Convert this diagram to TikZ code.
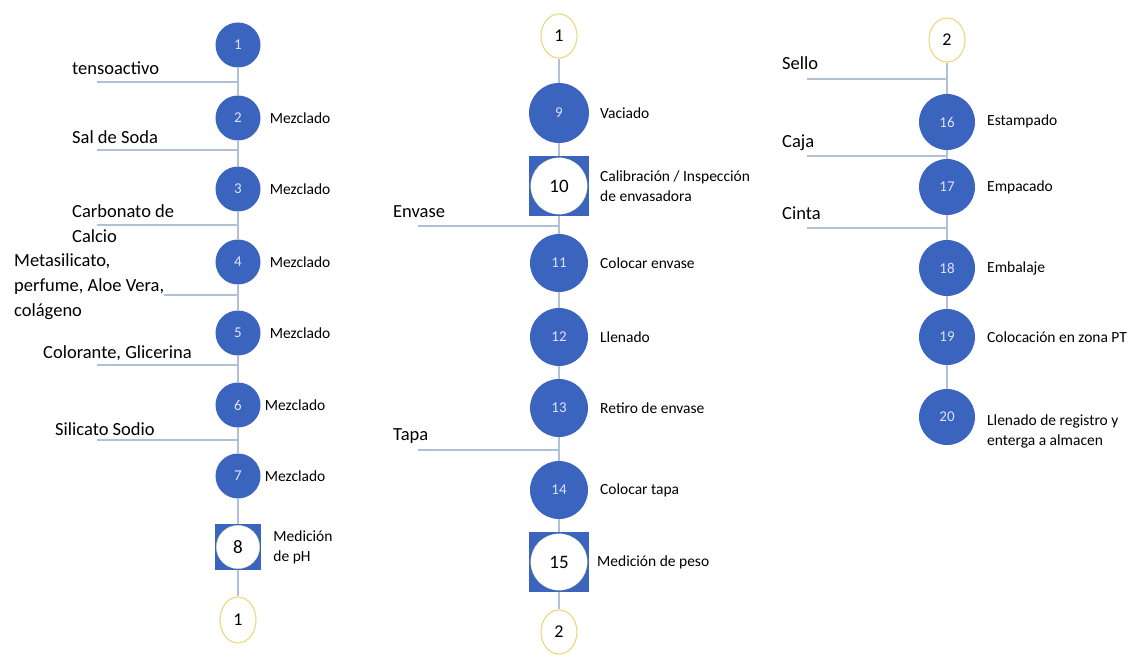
\documentclass[tikz,border=0pt]{standalone}
\usepackage{fontspec}
\setmainfont{Carlito}
\usetikzlibrary{shapes.geometric,positioning}
\definecolor{opblue}{RGB}{58,100,190}
\definecolor{linkgray}{RGB}{178,192,214}
\definecolor{refyellow}{RGB}{234,216,130}
\definecolor{ringyellow}{RGB}{226,234,170}

\begin{document}
\begin{tikzpicture}[x=1pt, y=-1pt,
		op/.style={circle, fill=opblue, inner sep=0pt, minimum size=#1pt, text=blue!12!white, font=\fontsize{15}{17}\selectfont},
		insp/.style={rectangle, fill=opblue, inner sep=0pt, minimum size=#1pt, font=\fontsize{19}{22}\selectfont,
			path picture={\draw[ringyellow, fill=white] (path picture bounding box.center) circle[radius=0.47*#1pt];}},
		ref/.style={ellipse, draw=refyellow, line width=1.1pt, fill=white, inner sep=0pt, minimum width=36pt, minimum height=44pt, font=\fontsize{18}{21}\selectfont},
		lbl/.style={anchor=west, align=left, inner sep=0pt, font=\fontsize{15.5}{20}\selectfont},
		feed/.style={anchor=west, align=left, inner sep=0pt, font=\fontsize{18.5}{25}\selectfont},
		link/.style={draw=linkgray, line width=1.2pt}]
	\useasboundingbox (0,0) rectangle (1135,655);

	% columna 1
	\node[op=45] (c1) at (238,45) {1};
	\node[op=45] (c2) at (238,118) {2};
	\node[op=45] (c3) at (238,189) {3};
	\node[op=45] (c4) at (238,262) {4};
	\node[op=45] (c5) at (238,333) {5};
	\node[op=45] (c6) at (238,405) {6};
	\node[op=45] (c7) at (238,476) {7};
	\node[insp=46] (c8) at (238,547) {8};
	\node[ref, minimum height=46pt] (r1a) at (238,620) {1};
	\foreach \a/\b in {c1/c2,c2/c3,c3/c4,c4/c5,c5/c6,c6/c7,c7/c8,c8/r1a}
		\draw[link] (\a) -- (\b);

	\coordinate (f1) at (97,82);
	\coordinate (f2) at (97,150);
	\coordinate (f3) at (97,225);
	\coordinate (f4) at (97,295);
	\coordinate (f5) at (97,365);
	\coordinate (f6) at (97,440);
	\foreach \f in {f1,f2,f3,f4,f5,f6}
		\draw[link] (\f) -- (\f -| c1);

	\node[feed] (tenso) at (72,68) {tensoactivo};
	\node[feed] (sal) at (72,137) {Sal de Soda};
	\node[feed] (carb) at (72,224) {Carbonato de\\Calcio};
	\node[feed, fill=white] (meta) at (14,287) {Metasilicato,\\perfume, Aloe Vera,\\colágeno};
	\node[feed] (color) at (43,353) {Colorante, Glicerina};
	\node[feed] (silic) at (55,429) {Silicato Sodio};

	\foreach \n in {c2,c3,c4,c5}
		\node[lbl, right=9pt of \n] {Mezclado};
	\foreach \n in {c6,c7}
		\node[lbl, right=4pt of \n] {Mezclado};
	\node[lbl, right=12pt of c8] (ph) {Medición\\de pH};

	% columna 2
	\node[ref] (r1b) at (559,36) {1};
	\node[op=60] (c9) at (559,113) {9};
	\node[insp=60] (c10) at (559,186) {10};
	\node[op=58] (c11) at (559,263) {11};
	\node[op=58] (c12) at (559,337) {12};
	\node[op=58] (c13) at (559,408) {13};
	\node[op=58] (c14) at (559,490) {14};
	\node[insp=60] (c15) at (559,562) {15};
	\node[ref] (r2a) at (559,632) {2};
	\foreach \a/\b in {r1b/c9,c9/c10,c10/c11,c11/c12,c12/c13,c13/c14,c14/c15,c15/r2a}
		\draw[link] (\a) -- (\b);

	\coordinate (f7) at (418,226);
	\coordinate (f8) at (418,450);
	\foreach \f in {f7,f8}
		\draw[link] (\f) -- (\f -| c9);
	\node[feed] (envase) at (393,212) {Envase};
	\node[feed] (tapa) at (393,436) {Tapa};

	\node[lbl] (vac) at (600,113) {Vaciado};
	\node[lbl] (calib) at (600,186) {Calibración / Inspección\\de envasadora};
	\node[lbl] (coloc) at (600,263) {Colocar envase};
	\node[lbl] (llen) at (600,337) {Llenado};
	\node[lbl] (retiro) at (600,408) {Retiro de envase};
	\node[lbl] (ctapa) at (600,490) {Colocar tapa};
	\node[lbl] (peso) at (597,562) {Medición de peso};

	% columna 3
	\node[ref] (r2b) at (947,40) {2};
	\node[op=56] (c16) at (947,122) {16};
	\node[op=56] (c17) at (947,187) {17};
	\node[op=56] (c18) at (947,268) {18};
	\node[op=56] (c19) at (947,337) {19};
	\node[op=56] (c20) at (947,417) {20};
	\foreach \a/\b in {r2b/c16,c16/c17,c17/c18,c18/c19,c19/c20}
		\draw[link] (\a) -- (\b);

	\coordinate (f9) at (807,79);
	\coordinate (f10) at (807,156);
	\coordinate (f11) at (807,228);
	\foreach \f in {f9,f10,f11}
		\draw[link] (\f) -- (\f -| c16);
	\node[feed] (sello) at (782,63) {Sello};
	\node[feed] (caja) at (782,143) {Caja};
	\node[feed] (cinta) at (782,213) {Cinta};

	\node[lbl] (estam) at (987,121) {Estampado};
	\node[lbl] (empac) at (987,187) {Empacado};
	\node[lbl] (embal) at (987,268) {Embalaje};
	\node[lbl] (zona) at (987,337) {Colocación en zona PT};
	\node[lbl] (regis) at (987,431) {Llenado de registro y\\enterga a almacen};
\end{tikzpicture}
\end{document}
